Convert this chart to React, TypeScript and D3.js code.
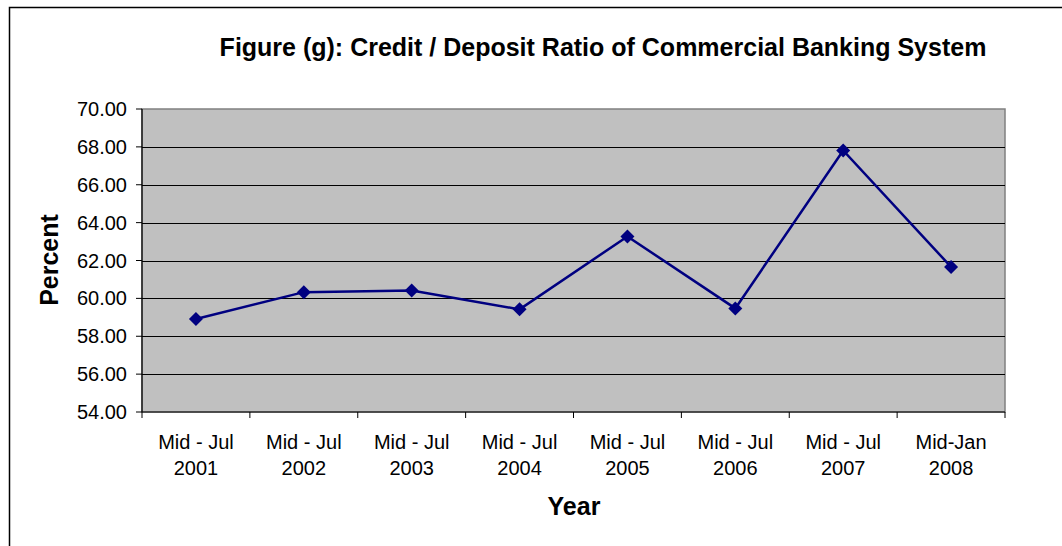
import React from "react";
import * as d3 from "d3";

const categories = ["Mid - Jul|2001", "Mid - Jul|2002", "Mid - Jul|2003", "Mid - Jul|2004", "Mid - Jul|2005", "Mid - Jul|2006", "Mid - Jul|2007", "Mid-Jan|2008"];
const values = [58.91, 60.33, 60.41, 59.42, 63.27, 59.47, 67.81, 61.66];
const yTicks = [54, 56, 58, 60, 62, 64, 66, 68, 70];

const W = 1062, H = 546;
const plot = { left: 142, right: 1005, top: 109, bottom: 412 };

export default function App() {
  const x = d3.scaleBand<string>().domain(categories).range([plot.left, plot.right]).padding(0);
  const y = d3.scaleLinear().domain([54, 70]).range([plot.bottom, plot.top]);
  const line = d3.line<number>().x((_, i) => x(categories[i])! + x.bandwidth() / 2).y((d) => y(d));
  const font = "Liberation Sans, Arial, sans-serif";
  const boundaries = categories.map((c) => x(c)!).concat([plot.right]);
  return (
    <svg width={W} height={H} style={{ position: "absolute", left: 0, top: 0 }} fontFamily={font}>
      <rect x={0} y={0} width={W} height={H} fill="#fff" />
      <path d={`M9.5,${H} V7.5 H${W}`} fill="none" stroke="#000" strokeWidth={1.5} />
      <text x={603} y={56} textAnchor="middle" fontSize={25} fontWeight="bold">
        Figure (g): Credit / Deposit Ratio of Commercial Banking System
      </text>
      <rect x={plot.left} y={plot.top} width={plot.right - plot.left} height={plot.bottom - plot.top} fill="#c0c0c0" stroke="#808080" strokeWidth={1.5} />
      {yTicks.filter((t) => t !== 54 && t !== 70).map((t) => (
        <line key={t} x1={plot.left} x2={plot.right} y1={Math.round(y(t)) + 0.5} y2={Math.round(y(t)) + 0.5} stroke="#000" strokeWidth={1} />
      ))}
      <line x1={plot.left} x2={plot.left} y1={plot.top} y2={plot.bottom} stroke="#000" strokeWidth={1.2} />
      <line x1={plot.left} x2={plot.right} y1={plot.bottom} y2={plot.bottom} stroke="#000" strokeWidth={1.2} />
      {yTicks.map((t) => (
        <g key={t}>
          <line x1={plot.left - 6} x2={plot.left} y1={y(t)} y2={y(t)} stroke="#000" />
          <text x={127} y={y(t) + 7} textAnchor="end" fontSize={20}>{t.toFixed(2)}</text>
        </g>
      ))}
      {boundaries.map((b, i) => (
        <line key={i} x1={b} x2={b} y1={plot.bottom} y2={plot.bottom + 6} stroke="#000" />
      ))}
      {categories.map((c) => {
        const [a, b] = c.split("|");
        const cx = x(c)! + x.bandwidth() / 2;
        return (
          <g key={c}>
            <text x={cx} y={449} textAnchor="middle" fontSize={20}>{a}</text>
            <text x={cx} y={475} textAnchor="middle" fontSize={20}>{b}</text>
          </g>
        );
      })}
      <path d={line(values)!} fill="none" stroke="#000080" strokeWidth={2.5} />
      {values.map((v, i) => {
        const cx = x(categories[i])! + x.bandwidth() / 2;
        const cy = y(v);
        const s = 7;
        return <path key={i} d={`M${cx},${cy - s} L${cx + s},${cy} L${cx},${cy + s} L${cx - s},${cy} Z`} fill="#000080" />;
      })}
      <text x={574} y={515} textAnchor="middle" fontSize={25} fontWeight="bold">Year</text>
      <text transform={`translate(58,260) rotate(-90)`} textAnchor="middle" fontSize={25} fontWeight="bold">Percent</text>
    </svg>
  );
}
